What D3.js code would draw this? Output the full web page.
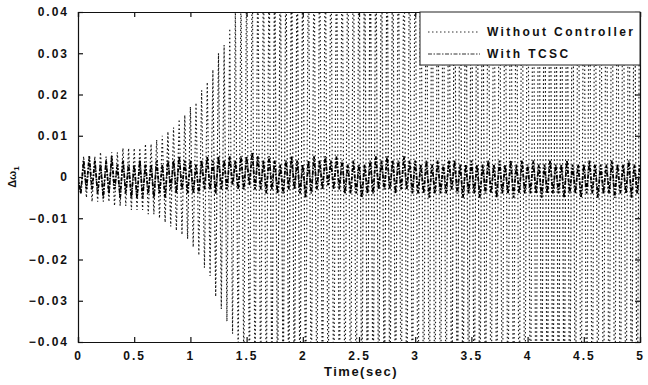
<!DOCTYPE html>
<html>
<head>
<meta charset="utf-8">
<script src="https://cdn.jsdelivr.net/npm/d3@7"></script>
<style>
  body { margin: 0; background: #fff; }
  text { font-family: "Liberation Sans", Arial, sans-serif; font-weight: bold; fill: #111; }
</style>
</head>
<body>
<figure id="chart" style="margin:0"></figure>
<script>
// sampling step of the peak values (sec)
const stepSec = 0.025;

// Without Controller: successive peaks (beyond +-0.04 it is clipped)
const withoutController = [
  0.000, -0.004, 0.005, -0.005, 0.005, -0.006, 0.005, -0.006, 0.006, -0.006, 0.005, -0.006, 0.006, -0.007, 0.006, -0.007, 0.007, -0.007, 0.007, -0.008,
  0.007, -0.008, 0.007, -0.008, 0.008, -0.009, 0.008, -0.009, 0.009, -0.010, 0.010, -0.011, 0.011, -0.012, 0.012, -0.013, 0.014, -0.014, 0.015, -0.015,
  0.017, -0.017, 0.018, -0.019, 0.021, -0.022, 0.023, -0.024, 0.026, -0.029, 0.030, -0.032, 0.032, -0.035, 0.036, -0.038, 0.041, -0.044, 0.046, -0.048,
  0.050, -0.052, 0.053, -0.054, 0.055, -0.055, 0.056, -0.056, 0.057, -0.057, 0.058, -0.058, 0.058, -0.059, 0.059, -0.059, 0.060, -0.060, 0.060, -0.060,
  0.061, -0.061, 0.061, -0.061, 0.061, -0.062, 0.062, -0.062, 0.062, -0.062, 0.063, -0.063, 0.063, -0.063, 0.063, -0.063, 0.064, -0.064, 0.064, -0.064,
  0.064, -0.064, 0.065, -0.065, 0.065, -0.065, 0.065, -0.065, 0.066, -0.066, 0.066, -0.066, 0.066, -0.066, 0.066, -0.067, 0.067, -0.067, 0.067, -0.067,
  0.067, -0.067, 0.067, -0.068, 0.068, -0.068, 0.068, -0.068, 0.068, -0.068, 0.068, -0.068, 0.069, -0.069, 0.069, -0.069, 0.069, -0.069, 0.069, -0.069,
  0.069, -0.070, 0.070, -0.070, 0.070, -0.070, 0.070, -0.070, 0.070, -0.070, 0.070, -0.071, 0.071, -0.071, 0.071, -0.071, 0.071, -0.071, 0.071, -0.071,
  0.071, -0.071, 0.071, -0.072, 0.072, -0.072, 0.072, -0.072, 0.072, -0.072, 0.072, -0.072, 0.072, -0.072, 0.072, -0.073, 0.073, -0.073, 0.073, -0.073,
  0.073, -0.073, 0.073, -0.073, 0.073, -0.073, 0.073, -0.073, 0.074, -0.074, 0.074, -0.074, 0.074, -0.074, 0.074, -0.074, 0.074, -0.074, 0.074, -0.074,
  0.074
];

// With TCSC: stays in a narrow band round zero
const withTCSC = [
  0.000, -0.004, 0.004, -0.003, 0.005, -0.003, 0.004, -0.004, 0.003, -0.005, 0.004, -0.004, 0.005, -0.003, 0.003, -0.005, 0.004, -0.004, 0.003, -0.005,
  0.003, -0.005, 0.004, -0.005, 0.003, -0.004, 0.003, -0.005, 0.004, -0.004, 0.003, -0.005, 0.004, -0.003, 0.004, -0.004, 0.005, -0.003, 0.004, -0.004,
  0.004, -0.004, 0.003, -0.004, 0.004, -0.003, 0.005, -0.003, 0.004, -0.004, 0.005, -0.003, 0.004, -0.003, 0.005, -0.002, 0.004, -0.003, 0.005, -0.003,
  0.005, -0.002, 0.006, -0.003, 0.005, -0.003, 0.004, -0.004, 0.005, -0.003, 0.004, -0.004, 0.003, -0.004, 0.004, -0.003, 0.005, -0.003, 0.004, -0.004,
  0.003, -0.005, 0.004, -0.004, 0.005, -0.003, 0.004, -0.003, 0.005, -0.002, 0.004, -0.003, 0.005, -0.003, 0.004, -0.004, 0.003, -0.004, 0.004, -0.004,
  0.003, -0.005, 0.003, -0.004, 0.004, -0.004, 0.005, -0.003, 0.004, -0.003, 0.005, -0.003, 0.004, -0.004, 0.004, -0.003, 0.005, -0.003, 0.004, -0.004,
  0.004, -0.004, 0.003, -0.004, 0.004, -0.005, 0.003, -0.004, 0.004, -0.004, 0.003, -0.004, 0.004, -0.003, 0.004, -0.004, 0.003, -0.005, 0.003, -0.004,
  0.004, -0.004, 0.003, -0.005, 0.003, -0.004, 0.004, -0.004, 0.003, -0.005, 0.004, -0.004, 0.003, -0.004, 0.004, -0.005, 0.003, -0.004, 0.004, -0.004,
  0.003, -0.004, 0.004, -0.004, 0.003, -0.005, 0.003, -0.004, 0.004, -0.004, 0.003, -0.004, 0.003, -0.005, 0.004, -0.004, 0.003, -0.004, 0.003, -0.005,
  0.003, -0.004, 0.004, -0.004, 0.003, -0.005, 0.003, -0.004, 0.003, -0.004, 0.004, -0.005, 0.003, -0.004, 0.003, -0.004, 0.004, -0.005, 0.003, -0.004,
  0.003
];

const xTicks = [0, 0.5, 1, 1.5, 2, 2.5, 3, 3.5, 4, 4.5, 5];
const yTicks = [-0.04, -0.03, -0.02, -0.01, 0, 0.01, 0.02, 0.03, 0.04];
const legendLabels = ["Without Controller", "With TCSC"];

const width = 648, height = 385;
const margin = { top: 12, right: 8, bottom: 43, left: 78 };
const innerW = width - margin.left - margin.right;
const innerH = height - margin.top - margin.bottom;

const svg = d3.select("figure#chart")
  .append("svg")
  .attr("width", width)
  .attr("height", height);

const g = svg.append("g")
  .attr("transform", "translate(" + margin.left + "," + margin.top + ")");

const x = d3.scaleLinear().domain([0, 5]).range([0, innerW]);
const y = d3.scaleLinear().domain([-0.04, 0.04]).range([innerH, 0]);

g.append("clipPath").attr("id", "plotclip")
  .append("rect").attr("width", innerW).attr("height", innerH);

const line = d3.line()
  .x((d, i) => x(i * stepSec))
  .y(d => y(d));

// Without Controller, dotted
g.append("path")
  .datum(withoutController)
  .attr("clip-path", "url(#plotclip)")
  .attr("d", line)
  .attr("fill", "none")
  .attr("stroke", "#1a1a1a")
  .attr("stroke-width", 1.15)
  .attr("stroke-dasharray", "1.6,2.4");

// With TCSC, dash-dot
g.append("path")
  .datum(withTCSC)
  .attr("clip-path", "url(#plotclip)")
  .attr("d", line)
  .attr("fill", "none")
  .attr("stroke", "#000")
  .attr("stroke-width", 1.8)
  .attr("stroke-dasharray", "4,1.5,1.5,1.5");

// box with inward ticks on all four sides
const tickFmt = d => d === 0 ? "0" : d3.format(".2f")(d);
g.append("g").attr("class", "axis")
  .attr("transform", "translate(0," + innerH + ")")
  .call(d3.axisBottom(x).tickValues(xTicks).tickSize(-5).tickPadding(9).tickFormat(d3.format("")));
g.append("g").attr("class", "axis")
  .call(d3.axisLeft(y).tickValues(yTicks).tickSize(-5).tickPadding(9).tickFormat(tickFmt));
g.append("g").attr("class", "axis")
  .call(d3.axisTop(x).tickValues(xTicks).tickSize(-5).tickFormat(""));
g.append("g").attr("class", "axis")
  .attr("transform", "translate(" + innerW + ",0)")
  .call(d3.axisRight(y).tickValues(yTicks).tickSize(-5).tickFormat(""));

g.selectAll(".axis path, .axis line").attr("stroke", "#111").attr("stroke-width", 1.2);
g.selectAll(".axis text")
  .style("font-family", "'Liberation Sans', Arial, sans-serif")
  .style("font-weight", "bold")
  .style("font-size", "12px")
  .style("letter-spacing", "2px")
  .attr("fill", "#111");

// legend
const legend = g.append("g")
  .attr("transform", "translate(" + (innerW - 220) + ",0)");
legend.append("rect")
  .attr("width", 220).attr("height", 53)
  .attr("fill", "#fff").attr("stroke", "#222").attr("stroke-width", 1);
const dashes = ["1.5,2.5", "4,1.5,1.5,1.5"];
legendLabels.forEach((lab, i) => {
  const ly = 20 + i * 22;
  legend.append("line")
    .attr("x1", 8).attr("x2", 60).attr("y1", ly).attr("y2", ly)
    .attr("stroke", "#333").attr("stroke-width", 1)
    .attr("stroke-dasharray", dashes[i]);
  legend.append("text")
    .attr("x", 67).attr("y", ly + 4)
    .style("font-size", "12px")
    .style("letter-spacing", "2.4px")
    .text(lab);
});

// axis titles
svg.append("text")
  .attr("x", margin.left + x(2.5) + 2).attr("y", 376)
  .attr("text-anchor", "middle")
  .style("font-size", "13px")
  .style("letter-spacing", "1.5px")
  .text("Time(sec)");

const ylab = svg.append("text")
  .attr("transform", "translate(16," + (margin.top + y(0)) + ") rotate(-90)")
  .attr("text-anchor", "middle")
  .style("font-size", "11px");
ylab.append("tspan").text("\u0394\u03c9");
ylab.append("tspan").attr("dy", 3).style("font-size", "8px").text("1");
</script>
</body>
</html>
